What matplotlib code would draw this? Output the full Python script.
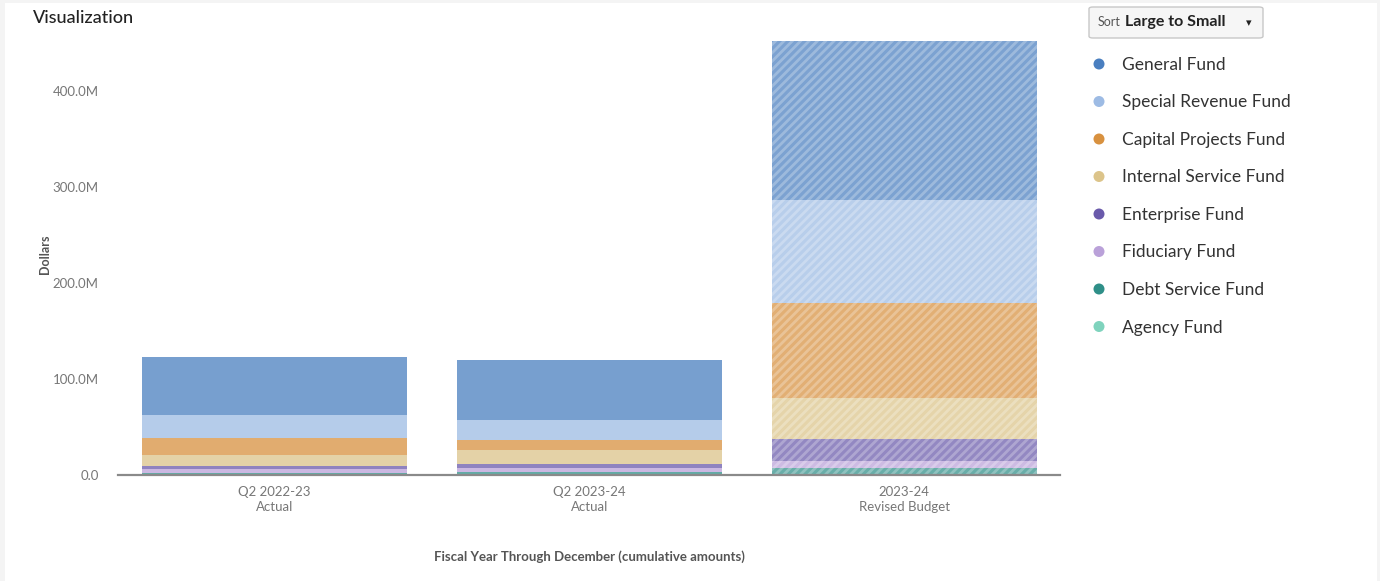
import matplotlib
matplotlib.use("Agg")
import matplotlib.pyplot as plt
from matplotlib.patches import Rectangle, FancyBboxPatch, Ellipse
from matplotlib.ticker import FuncFormatter
import numpy as np

plt.rcParams['font.family'] = ['Lato', 'DejaVu Sans']
plt.rcParams['hatch.linewidth'] = 2.0

categories = ["Q2 2022-23\nActual", "Q2 2023-24\nActual", "2023-24\nRevised Budget"]
funds = ["General Fund", "Special Revenue Fund", "Capital Projects Fund",
         "Internal Service Fund", "Enterprise Fund", "Fiduciary Fund",
         "Debt Service Fund", "Agency Fund"]
# values in millions of dollars, per fund, per category
general = [60.4, 62.8, 165.5]
special_revenue = [24.0, 20.5, 107.5]
capital_projects = [17.7, 10.1, 98.8]
internal_service = [11.4, 14.9, 42.7]
enterprise = [2.8, 4.2, 22.9]
fiduciary = [4.5, 4.2, 7.8]
debt_service = [1.5, 2.8, 6.7]
agency = [0.3, 0.3, 0.1]
hatched = [False, False, True]

series = [general, special_revenue, capital_projects, internal_service,
          enterprise, fiduciary, debt_service, agency]
colors = ["#4a7fc0", "#9dbbe4", "#d8913f", "#dcc48a", "#6a5aab", "#baa1d9",
          "#2f8f88", "#7fd3bd"]

W, H = 1380, 581
fig = plt.figure(figsize=(W / 100, H / 100), dpi=100, facecolor="#f4f4f4")
fig.patches.append(Rectangle((5 / W, 0), (1377 - 5) / W, (H - 3) / H,
                             transform=fig.transFigure, facecolor="white",
                             edgecolor="none", zorder=-5))

ax_left, ax_right = 118 / W, 1060 / W
ax_bottom = (H - 475) / H
ymax = 460
ax_top_px = 475 - ymax * 0.96
ax = fig.add_axes([ax_left, ax_bottom, ax_right - ax_left, (475 - ax_top_px) / H])
ax.set_facecolor("none")
ax.set_zorder(2)

x = np.arange(len(categories))
# stack from bottom: agency at bottom up to general at top
stack_order = list(range(len(series)))[::-1]
bottoms = np.zeros(len(categories))
for i in stack_order:
    vals = np.array(series[i])
    for j in range(len(categories)):
        if hatched[j]:
            ax.bar(x[j], vals[j], bottom=bottoms[j], width=0.841,
                   color=colors[i], alpha=0.72, linewidth=0)
            ax.bar(x[j], vals[j], bottom=bottoms[j], width=0.841,
                   facecolor="none", edgecolor=(1, 1, 1, 0.26), hatch="////",
                   linewidth=0)
        else:
            ax.bar(x[j], vals[j], bottom=bottoms[j], width=0.841,
                   color=colors[i], alpha=0.75, linewidth=0)
    bottoms = bottoms + vals

ax.set_xlim(-0.497, 2.494)
ax.set_ylim(0, ymax)
ax.set_yticks([0, 100, 200, 300, 400])
ax.yaxis.set_major_formatter(FuncFormatter(lambda v, p: "0.0" if v == 0 else f"{v:.1f}M"))
ax.set_xticks(x)
ax.set_xticklabels(categories, color="#777777", fontsize=9.5, linespacing=1.25)
for s in ["top", "right", "left"]:
    ax.spines[s].set_visible(False)
ax.spines["bottom"].set_color("#8a8a8a")
ax.spines["bottom"].set_linewidth(1.6)
ax.tick_params(axis="y", length=0, pad=14, labelcolor="#777777", labelsize=9.5)
ax.tick_params(axis="x", length=0, pad=8)
ax.set_ylabel("Dollars", fontsize=9, fontweight="bold", color="#555555", labelpad=1)
ax.set_xlabel("Fiscal Year Through December (cumulative amounts)", fontsize=9.5,
              fontweight="bold", color="#555555", labelpad=27)

fig.text(33 / W, 1 - 18 / H, "Visualization", fontsize=13, color="#222222",
         va="center", ha="left", fontweight="medium")

# sort box
box = FancyBboxPatch((1089 / W, 1 - 38 / H), (1263 - 1089) / W, 31 / H,
                     boxstyle="round,pad=0,rounding_size=0.003",
                     transform=fig.transFigure, facecolor="#f6f6f6",
                     edgecolor="#c8c8c8", linewidth=1)
fig.patches.append(box)
fig.text(1098 / W, 1 - 22.5 / H, "Sort", fontsize=9, color="#555555", va="center")
fig.text(1125 / W, 1 - 22 / H, "Large to Small", fontsize=11.5, color="#222222",
         fontweight="bold", va="center")
fig.text(1249 / W, 1 - 23 / H, "\u25be", fontsize=8, color="#222222",
         va="center", ha="center", family=["DejaVu Sans"])

# legend
leg_y = [64, 101.5, 139, 176.5, 214, 251.5, 289, 326.5]
for name, col, yy in zip(funds, colors, leg_y):
    fig.patches.append(Ellipse((1099 / W, 1 - yy / H), 11 / W, 11 / H,
                               transform=fig.transFigure,
                               facecolor=col, edgecolor="none"))
    fig.text(1122 / W, 1 - (yy + 1) / H, name, fontsize=12.5, color="#333333",
             va="center")

fig.savefig("out.png", dpi=100, facecolor=fig.get_facecolor())
